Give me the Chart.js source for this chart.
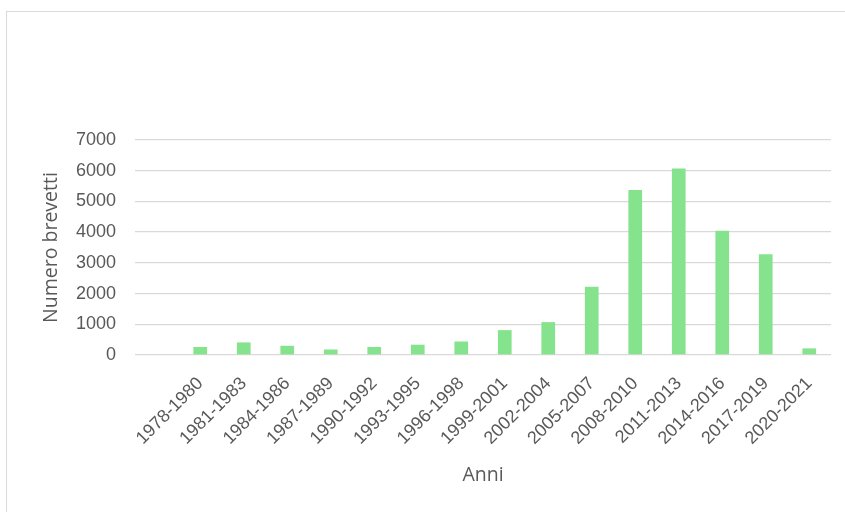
<!DOCTYPE html>
<html>
<head>
<meta charset="utf-8">
<script src="https://cdn.jsdelivr.net/npm/chart.js@4"></script>
<style>
  html, body { margin: 0; padding: 0; background: #fff; }
  #wrap { position: relative; width: 845px; height: 512px; overflow: hidden; }
  #frame { position: absolute; left: 6px; top: 11px; width: 900px; height: 600px;
           border-left: 1.5px solid #d9d9d9; border-top: 1.5px solid #d9d9d9; }
  canvas { position: absolute; left: 0; top: 0; }
</style>
</head>
<body>
<div id="wrap">
  <div id="frame"></div>
  <canvas id="chart" width="845" height="512"></canvas>
</div>
<script>
// first category is empty, as in the original sheet
const periods = ['', '1978-1980', '1981-1983', '1984-1986', '1987-1989', '1990-1992',
  '1993-1995', '1996-1998', '1999-2001', '2002-2004', '2005-2007', '2008-2010',
  '2011-2013', '2014-2016', '2017-2019', '2020-2021'];
const patents = [null, 260, 410, 300, 180, 260, 335, 440, 810, 1070, 2220, 5370,
  6070, 4045, 3280, 215];
const yMax = 7000;
const yStep = 1000;

const textColor = '#595959';
const gridColor = '#d9d9d9';
const tickFont = { family: '"Liberation Sans", Arial, sans-serif', size: 18 };
const titleFont = { family: '"Open Sans", "Noto Sans", sans-serif', size: 19.5 };

const padLeft = 36;
const padBottom = 21;

new Chart(document.getElementById('chart'), {
  type: 'bar',
  data: {
    labels: periods,
    datasets: [{
      label: 'Numero brevetti',
      data: patents,
      backgroundColor: '#86e38d',
      borderWidth: 0,
      barPercentage: 0.315,
      categoryPercentage: 1,
    }],
  },
  options: {
    responsive: false,
    animation: false,
    layout: { padding: { top: 140, left: padLeft, right: 14, bottom: padBottom } },
    plugins: { legend: { display: false }, tooltip: { enabled: false } },
    scales: {
      x: {
        grid: { display: false },
        border: { display: false },
        ticks: { color: textColor, font: tickFont, maxRotation: 45, minRotation: 45, padding: 10, autoSkip: false },
        title: { display: true, text: 'Anni', color: textColor, font: titleFont },
        afterFit: scale => { scale.height = 512 - padBottom - 355; },
      },
      y: {
        min: 0,
        max: yMax,
        grid: { color: gridColor, lineWidth: 1.3, drawTicks: false },
        border: { display: false },
        ticks: { stepSize: yStep, color: textColor, font: tickFont, padding: 19, callback: v => String(v) },
        title: { display: true, text: 'Numero brevetti', color: textColor, font: titleFont },
        afterFit: scale => { scale.width = 135 - padLeft; },
      },
    },
  },
});
</script>
</body>
</html>
